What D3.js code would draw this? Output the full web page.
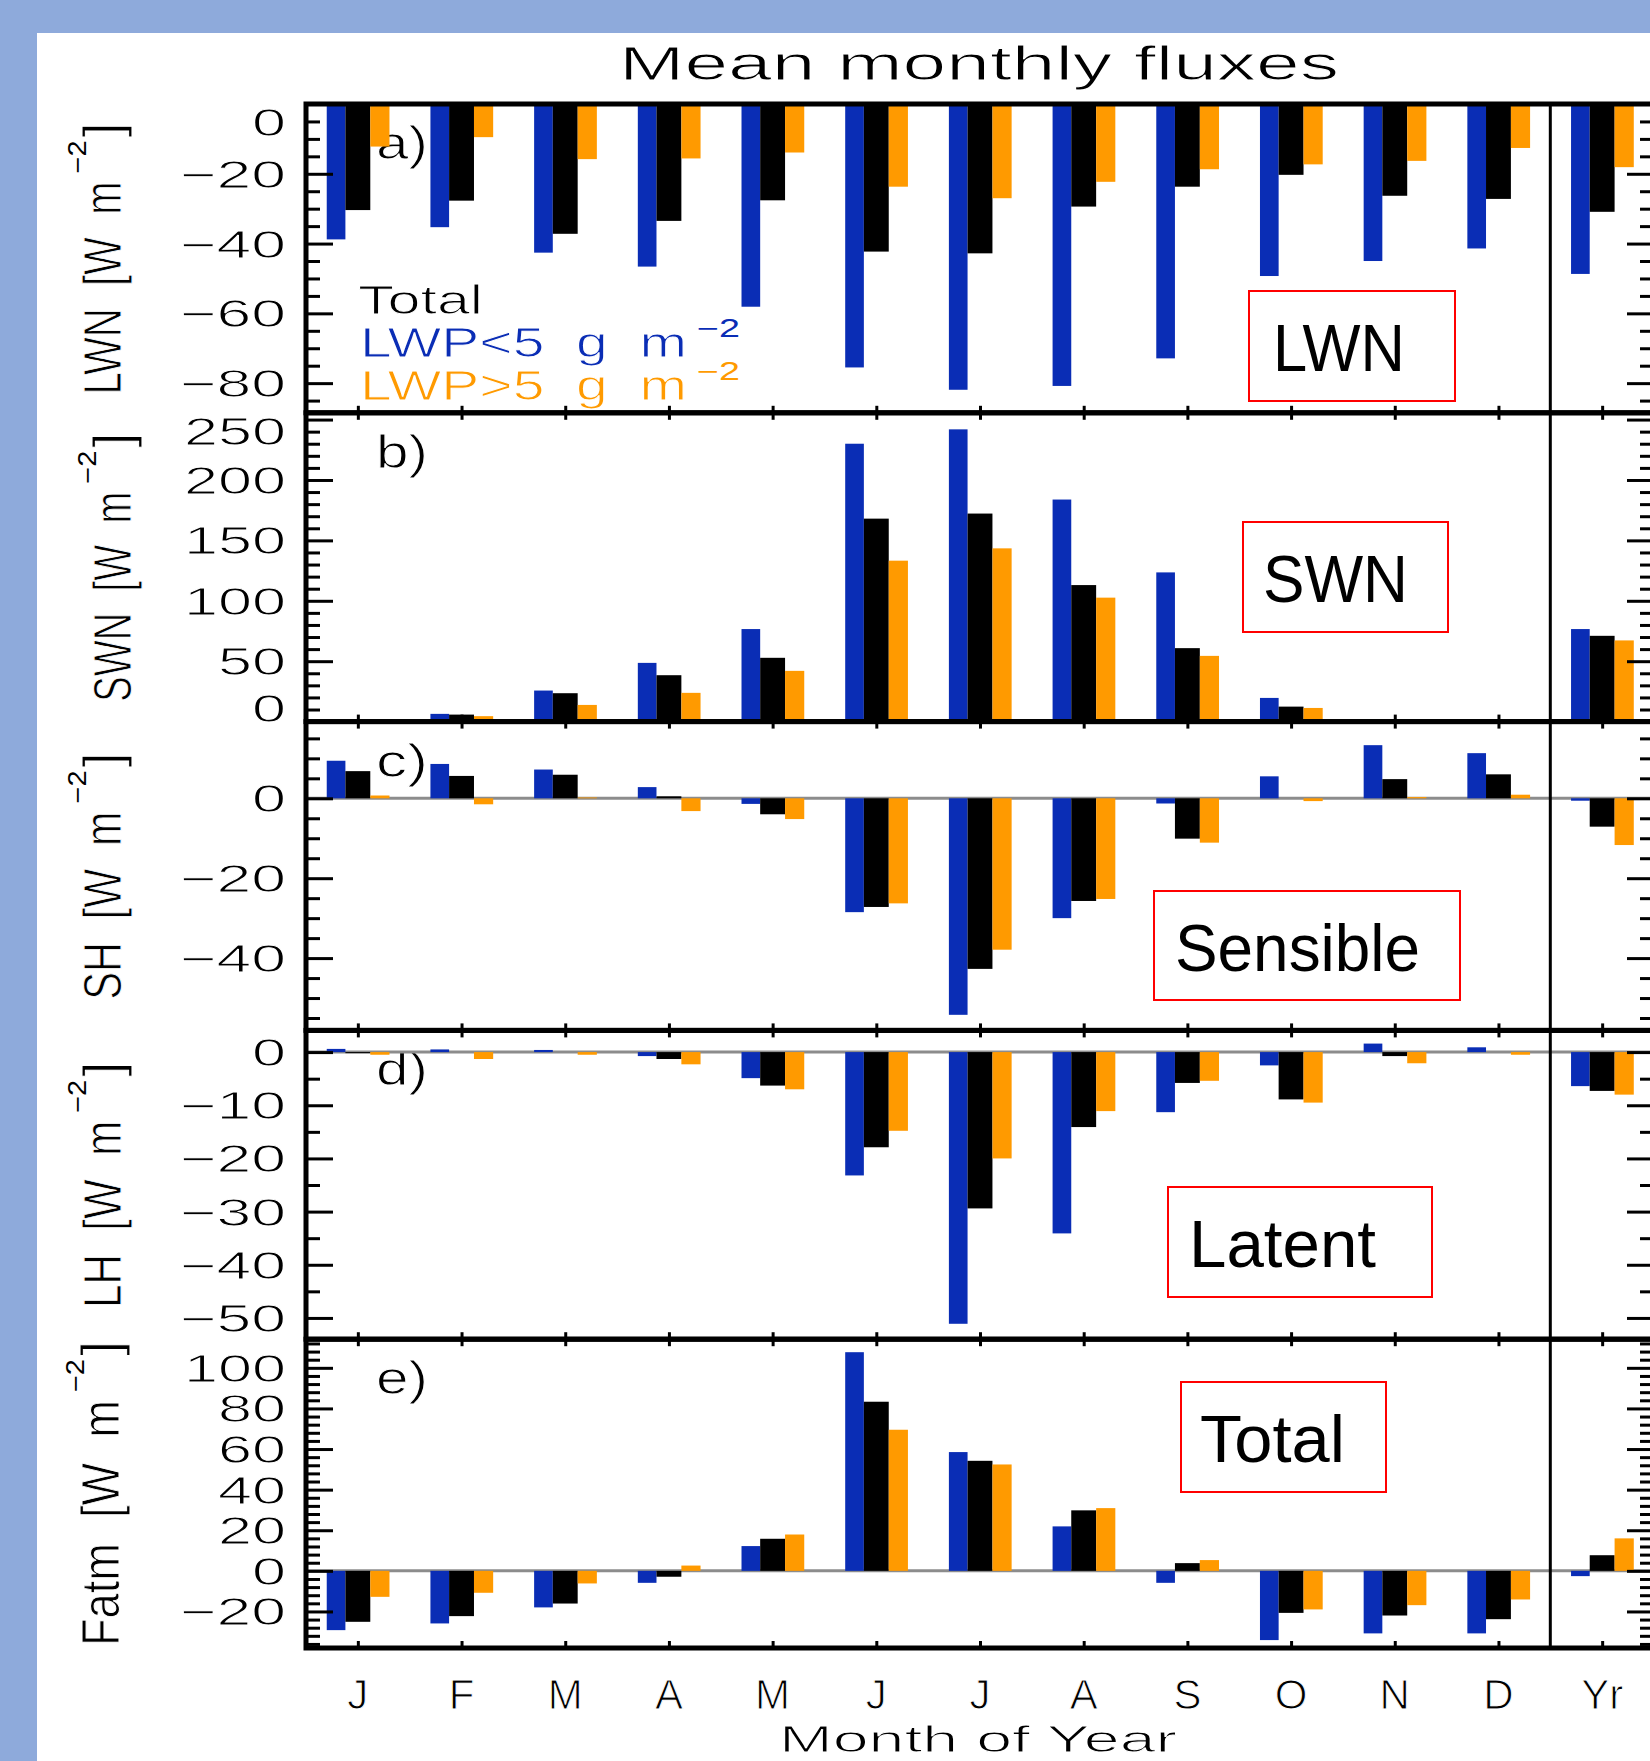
<html>
<head>
<title>Mean monthly fluxes</title>
<script src="https://d3js.org/d3.v7.min.js" charset="utf-8"></script>
<style>
  body { margin: 0; background: #8eaadb; }
  text { font-family: "Liberation Sans", Arial, sans-serif; white-space: pre; }
  text.idl { stroke: #fff; stroke-width: 1; paint-order: normal; }
</style>
</head>
<body>
<script>

    const width = 1650;
    const height = 1761;

    // categories
    const months = ["J", "F", "M", "A", "M", "J", "J", "A", "S", "O", "N", "D", "Yr"];

    // a) LWN [W m-2]
    const lwnLow   = [-38.8, -35.3, -42.6, -46.6, -58.1, -75.5, -81.9, -80.8, -72.9, -49.3, -45.0, -41.4, -48.7];
    const lwnTotal = [-30.4, -27.7, -37.2, -33.5, -27.6, -42.3, -42.8, -29.4, -23.7, -20.3, -26.3, -27.2, -30.9];
    const lwnHigh  = [-12.2, -9.5, -15.8, -15.6, -13.9, -23.7, -27.0, -22.3, -18.7, -17.3, -16.3, -12.6, -18.1];

    // b) SWN
    const swnLow   = [0, 6.4, 25.7, 48.6, 76.6, 230, 241.9, 183.8, 123.5, 19.6, 1.5, 0, 76.6];
    const swnTotal = [0, 5.8, 23.5, 38.4, 52.8, 168, 172.2, 113, 60.8, 12.4, 0.5, 0, 71];
    const swnHigh  = [0, 4.5, 13.8, 23.8, 42, 133.2, 143.4, 102.6, 54.4, 11.3, 0, 0, 67.2];

    // c) SH
    const shLow   = [9.4, 8.6, 7.2, 2.8, -1.4, -28.5, -54.2, -30, -1.3, 5.5, 13.3, 11.3, -0.6];
    const shTotal = [6.8, 5.6, 5.9, 0.5, -4, -27.2, -42.7, -25.7, -10.1, 0, 4.8, 6, -7.1];
    const shHigh  = [0.7, -1.5, 0.2, -3.2, -5.2, -26.3, -37.9, -25.2, -11.1, -0.7, 0.3, 0.9, -11.7];

    // d) LH
    const lhLow   = [0.6, 0.5, 0.4, -0.75, -4.9, -23.2, -51.1, -34.1, -11.3, -2.5, 1.6, 0.9, -6.4];
    const lhTotal = [-0.2, 0, 0, -1.3, -6.3, -17.9, -29.4, -14.1, -5.8, -8.9, -0.75, 0, -7.3];
    const lhHigh  = [-0.5, -1.3, -0.5, -2.3, -7.0, -14.8, -20, -11.1, -5.4, -9.5, -2.1, -0.5, -8];

    // e) Fatm
    const fatmLow   = [-29.2, -25.9, -18, -5.9, 12.2, 107.7, 58.5, 21.9, -5.9, -34.1, -30.8, -30.8, -2.6];
    const fatmTotal = [-25.1, -22.3, -16.1, -2.9, 15.8, 83.3, 54.2, 29.8, 3.8, -20.7, -22, -23.8, 7.7];
    const fatmHigh  = [-12.8, -10.8, -6.2, 2.6, 17.9, 69.5, 52.4, 30.9, 5.3, -19, -16.9, -14.1, 16];

    const blue = "#0a2db5";
    const orange = "#ff9a00";

    const panels = [
        {tag: "a)", name: "LWN",  domain: [-88.5, 0],     ticks: [0, -20, -40, -60, -80], minor: 5,
         low: lwnLow, total: lwnTotal, high: lwnHigh, titleLen: 213, titleX: 121},
        {tag: "b)", name: "SWN",  domain: [0, 255.6],     ticks: [0, 50, 100, 150, 200, 250], minor: 10,
         low: swnLow, total: swnTotal, high: swnHigh, titleLen: 210, titleX: 131},
        {tag: "c)", name: "SH",   domain: [-58.1, 19.2],  ticks: [0, -20, -40], minor: 5,
         low: shLow, total: shTotal, high: shHigh, titleLen: 188, titleX: 121},
        {tag: "d)", name: "LH",   domain: [-54, 4.08],    ticks: [0, -10, -20, -30, -40, -50], minor: 5,
         low: lhLow, total: lhTotal, high: lhHigh, titleLen: 187, titleX: 121},
        {tag: "e)", name: "Fatm", domain: [-38, 114.1],   ticks: [-20, 0, 20, 40, 60, 80, 100], minor: 4,
         low: fatmLow, total: fatmTotal, high: fatmHigh, titleLen: 246, titleX: 119}
    ];

    // bar layout inside one month slot (fraction of a month)
    const series = [
        {key: "low",   color: blue,   from: -0.30, to: -0.12},
        {key: "total", color: "#000", from: -0.12, to: 0.12},
        {key: "high",  color: orange, from: 0.12,  to: 0.305}
    ];

    const boxes = [
        {text: "LWN",      x: 1249, y: 291,  w: 206, h: 110, pad: 24, len: 132},
        {text: "SWN",      x: 1243, y: 522,  w: 205, h: 110, pad: 20, len: 145},
        {text: "Sensible", x: 1154, y: 891,  w: 306, h: 109, pad: 21, len: 245},
        {text: "Latent",   x: 1168, y: 1187, w: 264, h: 110, pad: 21, len: 187},
        {text: "Total",    x: 1181, y: 1382, w: 205, h: 110, pad: 19, len: 145}
    ];

    const svg = d3.select("body").append("svg")
        .attr("width", width)
        .attr("height", height);

    svg.append("rect").attr("width", width).attr("height", height).attr("fill", "#8eaadb");
    svg.append("rect").attr("x", 37).attr("y", 33).attr("width", width - 37).attr("height", height - 33).attr("fill", "#fff");

    const top0 = 104;
    const panelH = 308.8;
    const x = d3.scaleLinear().domain([-0.5, 12.5]).range([306, 1654]);

    const fmt = v => v < 0 ? "\u2212" + Math.abs(v) : String(v);
    const labelLen = s => s.split("").reduce((a, c) => a + (c === "\u2212" ? 38 : 34), 0);

    const styleAxis = sel => {
        sel.select(".domain").remove();
        sel.selectAll(".tick line").attr("stroke", "#000").attr("stroke-width", 3);
    };

    panels.forEach((p, k) => {
        const y0 = top0 + k * panelH;
        const y1 = y0 + panelH;
        const y = d3.scaleLinear().domain(p.domain).range([y1, y0]);
        const g = svg.append("g");

        // panel tag
        g.append("text").attr("class", "idl")
            .attr("x", 376).attr("y", y0 + 55)
            .attr("font-size", 46)
            .attr("textLength", 52).attr("lengthAdjust", "spacingAndGlyphs")
            .text(p.tag);

        // zero line
        if (p.domain[0] < 0 && p.domain[1] > 0) {
            g.append("line")
                .attr("x1", x(-0.5)).attr("x2", x(12.5))
                .attr("y1", y(0)).attr("y2", y(0))
                .attr("stroke", "#8c8c8c").attr("stroke-width", 3);
        }

        // bars
        series.forEach(s => {
            g.append("g").selectAll("rect")
                .data(p[s.key])
                .join("rect")
                .attr("x", (d, i) => x(i + s.from))
                .attr("width", (d, i) => x(i + s.to) - x(i + s.from))
                .attr("y", d => y(Math.max(0, d)))
                .attr("height", d => Math.abs(y(d) - y(0)))
                .attr("fill", s.color);
        });

        // y ticks, left (inward) and right (inward)
        const minorVals = d3.range(Math.ceil(p.domain[0] / p.minor) * p.minor, p.domain[1] + 1e-9, p.minor)
            .filter(v => !p.ticks.includes(v));
        g.append("g").attr("transform", "translate(306,0)")
            .call(d3.axisRight(y).tickValues(minorVals).tickSize(14).tickFormat(""))
            .call(styleAxis);
        g.append("g").attr("transform", "translate(306,0)")
            .call(d3.axisRight(y).tickValues(p.ticks).tickSize(27).tickFormat(""))
            .call(styleAxis);
        g.append("g").attr("transform", `translate(${x(12.5)},0)`)
            .call(d3.axisLeft(y).tickValues(minorVals).tickSize(14).tickFormat(""))
            .call(styleAxis);
        g.append("g").attr("transform", `translate(${x(12.5)},0)`)
            .call(d3.axisLeft(y).tickValues(p.ticks).tickSize(27).tickFormat(""))
            .call(styleAxis);

        // x ticks top and bottom
        g.append("g").attr("transform", `translate(0,${y0})`)
            .call(d3.axisBottom(x).tickValues(d3.range(13)).tickSize(7).tickFormat(""))
            .call(styleAxis);
        g.append("g").attr("transform", `translate(0,${y1})`)
            .call(d3.axisTop(x).tickValues(d3.range(13)).tickSize(7).tickFormat(""))
            .call(styleAxis);

        // y tick labels
        g.append("g").selectAll("text")
            .data(p.ticks)
            .join("text")
            .attr("class", "idl")
            .attr("x", 286)
            .attr("y", v => Math.min(Math.max(y(v), y0 + 18), y1 - 14) + 14)
            .attr("text-anchor", "end")
            .attr("font-size", 39)
            .attr("textLength", v => labelLen(fmt(v)))
            .attr("lengthAdjust", "spacingAndGlyphs")
            .text(fmt);

        // y title
        const total = p.titleLen + 57;
        const tc = (y0 + y1) / 2 + 1;
        const tg = g.append("g").attr("transform", `translate(${p.titleX},${tc + total / 2}) rotate(-90)`);
        tg.append("text").attr("class", "idl").attr("x", 0).attr("y", 0).attr("font-size", 54)
            .attr("textLength", p.titleLen).attr("lengthAdjust", "spacingAndGlyphs")
            .text(p.name + "  [W  m");
        tg.append("text").attr("x", p.titleLen + 8).attr("y", -35).attr("font-size", 25)
            .attr("textLength", 33).attr("lengthAdjust", "spacingAndGlyphs")
            .text("\u22122");
        tg.append("text").attr("class", "idl").attr("x", p.titleLen + 44).attr("y", 0).attr("font-size", 54)
            .text("]");

        // frame
        g.append("rect")
            .attr("x", x(-0.5)).attr("y", y0)
            .attr("width", x(12.5) - x(-0.5)).attr("height", panelH)
            .attr("fill", "none").attr("stroke", "#000").attr("stroke-width", 5);
    });

    // separator before yearly mean
    svg.append("line")
        .attr("x1", x(11.5)).attr("x2", x(11.5))
        .attr("y1", top0).attr("y2", top0 + 5 * panelH)
        .attr("stroke", "#000").attr("stroke-width", 3);

    // month labels
    svg.append("g").selectAll("text")
        .data(months)
        .join("text")
        .attr("class", "idl")
        .attr("x", (d, i) => x(i))
        .attr("y", 1709)
        .attr("text-anchor", "middle")
        .attr("font-size", 42)
        .text(d => d);

    svg.append("text").attr("class", "idl")
        .attr("x", 978).attr("y", 1752)
        .attr("text-anchor", "middle")
        .attr("font-size", 36)
        .attr("textLength", 398).attr("lengthAdjust", "spacingAndGlyphs")
        .text("Month of Year");

    // title
    svg.append("text").attr("class", "idl")
        .attr("x", 619).attr("y", 80)
        .attr("font-size", 49)
        .attr("textLength", 720).attr("lengthAdjust", "spacingAndGlyphs")
        .text("Mean monthly fluxes");

    // legend
    const legend = svg.append("g");
    legend.append("text").attr("class", "idl").attr("x", 358).attr("y", 314).attr("font-size", 40)
        .attr("textLength", 125).attr("lengthAdjust", "spacingAndGlyphs").text("Total");
    [["LWP<5  g  m", blue, 357], ["LWP>5  g  m", orange, 400]].forEach(([t, c, yy]) => {
        legend.append("text").attr("class", "idl").attr("x", 360).attr("y", yy).attr("font-size", 42).attr("fill", c)
            .attr("textLength", 327).attr("lengthAdjust", "spacingAndGlyphs").text(t);
        legend.append("text").attr("x", 697).attr("y", yy - 20).attr("font-size", 25).attr("fill", c)
            .attr("textLength", 43).attr("lengthAdjust", "spacingAndGlyphs").text("\u22122");
    });

    // red annotation boxes
    const bg = svg.append("g").selectAll("g").data(boxes).join("g");
    bg.append("rect")
        .attr("x", d => d.x).attr("y", d => d.y)
        .attr("width", d => d.w).attr("height", d => d.h)
        .attr("fill", "none").attr("stroke", "#ff0000").attr("stroke-width", 2);
    bg.append("text")
        .attr("x", d => d.x + d.pad).attr("y", d => d.y + 80)
        .attr("font-family", "Lato, 'Open Sans', sans-serif")
        .attr("font-size", 67)
        .attr("textLength", d => d.len).attr("lengthAdjust", "spacingAndGlyphs")
        .text(d => d.text);

</script>
</body>
</html>
